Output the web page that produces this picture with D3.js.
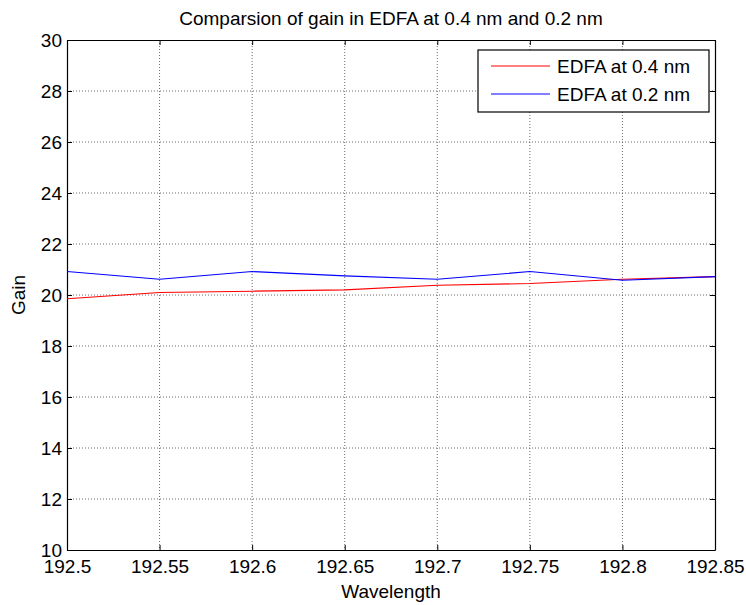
<!DOCTYPE html>
<html>
<head>
<meta charset="utf-8">
<script src="https://cdn.jsdelivr.net/npm/d3@7"></script>
<style>
  body { margin: 0; background: #fff; }
  svg text { font-family: "Liberation Sans", Arial, sans-serif; fill: #000; }
</style>
</head>
<body>
<div id="chart"></div>
<script>
// data
var wavelength = [192.5, 192.55, 192.6, 192.65, 192.7, 192.75, 192.8, 192.85]
var gain04 = [19.85, 20.1, 20.15, 20.2, 20.38, 20.45, 20.62, 20.72]
var gain02 = [20.92, 20.62, 20.92, 20.75, 20.62, 20.92, 20.58, 20.72]
var xTicks = [192.5, 192.55, 192.6, 192.65, 192.7, 192.75, 192.8, 192.85]
var yTicks = [10, 12, 14, 16, 18, 20, 22, 24, 26, 28, 30]
var seriesNames = ['EDFA at 0.4 nm', 'EDFA at 0.2 nm']
var seriesColors = ['#ff0000', '#0000ff']

var W = 746, H = 605
var margin = {top: 40, right: 31, bottom: 55, left: 67}
var width = W - margin.left - margin.right
var height = H - margin.top - margin.bottom
var fs = '19px'

var svg = d3.select('#chart').append('svg')
  .attr('width', W)
  .attr('height', H)

var g = svg.append('g')
  .attr('transform', 'translate(' + margin.left + ',' + margin.top + ')')

var x = d3.scaleLinear().domain([192.5, 192.85]).range([0, width])
var y = d3.scaleLinear().domain([10, 30]).range([height, 0])

// grid
g.append('g').selectAll('line').data(xTicks.slice(1, -1)).enter().append('line')
  .attr('x1', d => x(d)).attr('x2', d => x(d))
  .attr('y1', 0).attr('y2', height)
  .attr('stroke', '#444').attr('stroke-width', 0.8).attr('stroke-dasharray', '1,2')
g.append('g').selectAll('line').data(yTicks.slice(1, -1)).enter().append('line')
  .attr('y1', d => y(d)).attr('y2', d => y(d))
  .attr('x1', 0).attr('x2', width)
  .attr('stroke', '#444').attr('stroke-width', 0.8).attr('stroke-dasharray', '1,2')

// axes, matlab style ticks pointing in
var xAxis = d3.axisBottom(x).tickValues(xTicks).tickSizeInner(-5).tickSizeOuter(0).tickPadding(10).tickFormat(d => +d.toFixed(2))
var yAxis = d3.axisLeft(y).tickValues(yTicks).tickSizeInner(-5).tickSizeOuter(0).tickPadding(5)

var gx = g.append('g').attr('transform', 'translate(0,' + height + ')').call(xAxis)
var gy = g.append('g').call(yAxis)
g.append('g').call(d3.axisTop(x).tickValues(xTicks).tickSizeInner(-5).tickSizeOuter(0).tickFormat(''))
g.append('g').attr('transform', 'translate(' + width + ',0)')
  .call(d3.axisRight(y).tickValues(yTicks).tickSizeInner(-5).tickSizeOuter(0).tickFormat(''))

g.selectAll('.domain').attr('stroke', '#000').attr('stroke-width', 1.2)
g.selectAll('.tick line').attr('stroke', '#000')
gx.selectAll('text').style('font-size', fs)
gy.selectAll('text').style('font-size', fs)

// lines
var line = d3.line()
  .x((d, i) => x(wavelength[i]))
  .y(d => y(d))

;[gain04, gain02].forEach(function (s, i) {
  g.append('path')
    .datum(s)
    .attr('fill', 'none')
    .attr('stroke', seriesColors[i])
    .attr('stroke-width', 1.1)
    .attr('d', line)
})

// labels
svg.append('text')
  .attr('x', margin.left + width / 2).attr('y', 25)
  .attr('text-anchor', 'middle').style('font-size', fs)
  .text('Comparsion of gain in EDFA at 0.4 nm and 0.2 nm')
svg.append('text')
  .attr('x', margin.left + width / 2).attr('y', 598)
  .attr('text-anchor', 'middle').style('font-size', fs)
  .text('Wavelength')
svg.append('text')
  .attr('transform', 'translate(25,' + (margin.top + height / 2) + ') rotate(-90)')
  .attr('text-anchor', 'middle').style('font-size', fs)
  .text('Gain')

// legend
var lg = svg.append('g').attr('transform', 'translate(478,50)')
lg.append('rect')
  .attr('width', 231).attr('height', 62)
  .attr('fill', '#fff').attr('stroke', '#000').attr('stroke-width', 1.2)
seriesNames.forEach(function (name, i) {
  var yy = 16 + i * 28
  lg.append('line')
    .attr('x1', 13).attr('x2', 72).attr('y1', yy).attr('y2', yy)
    .attr('stroke', seriesColors[i])
  lg.append('text')
    .attr('x', 79).attr('y', yy + 7)
    .style('font-size', fs)
    .text(name)
})
</script>
</body>
</html>
